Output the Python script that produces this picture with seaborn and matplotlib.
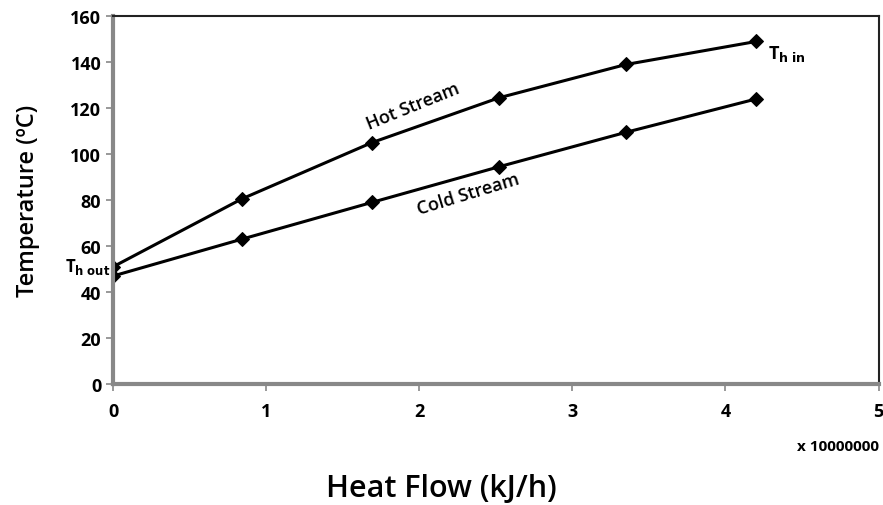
import matplotlib
matplotlib.use("Agg")
import matplotlib.pyplot as plt
import numpy as np
import pandas as pd
import seaborn as sns

# values (x in units of 1e7 kJ/h)
heat_flow = [0.0, 0.84, 1.69, 2.52, 3.35, 4.2]
hot_temp = [51, 80.5, 105, 124.5, 139, 149]
cold_temp = [47, 63, 79, 94.5, 109.5, 124]
x_ticks = [0, 1, 2, 3, 4, 5]
y_ticks = [0, 20, 40, 60, 80, 100, 120, 140, 160]

sns.set_style("white")
plt.rcParams["font.family"] = ["Open Sans", "DejaVu Sans"]
plt.rcParams.update({"text.color": "black", "axes.labelcolor": "black",
                     "xtick.labelcolor": "black", "ytick.labelcolor": "black"})

df = pd.concat([
    pd.DataFrame({"q": heat_flow, "T": hot_temp, "stream": "Hot Stream"}),
    pd.DataFrame({"q": heat_flow, "T": cold_temp, "stream": "Cold Stream"}),
])

fig = plt.figure(figsize=(8.83, 5.06), dpi=100)
ax = fig.add_axes([0.128, 0.239, 0.867, 0.727])
sns.lineplot(data=df, x="q", y="T", units="stream", estimator=None,
             color="black", lw=2.2, marker="D", markersize=7,
             markeredgecolor="black", ax=ax, legend=False)

ax.set_xlim(0, 5); ax.set_ylim(0, 160)
ax.set_xticks(x_ticks); ax.set_yticks(y_ticks)
ax.tick_params(axis="both", labelsize=13, length=5, color="#888888",
               labelcolor="black", direction="out", width=1.2)
ax.tick_params(axis="x", pad=8)
for t in ax.get_xticklabels() + ax.get_yticklabels():
    t.set_fontweight("bold")
ax.tick_params(left=True, bottom=True)
for s in ["top", "right"]:
    ax.spines[s].set_color("#222222"); ax.spines[s].set_linewidth(1.5)
for s in ["left", "bottom"]:
    ax.spines[s].set_color("#888888"); ax.spines[s].set_linewidth(3)

ax.set_xlabel("")
ax.set_ylabel("Temperature (ºC)", fontsize=17, fontweight="semibold", labelpad=22)
fig.text(0.5, 0.018, "Heat Flow (kJ/h)", ha="center", fontsize=22, fontweight="semibold")

ax.text(1.0, -0.18, "x 10000000", transform=ax.transAxes, ha="right",
        fontsize=11, fontweight="bold")
ax.text(1.67, 111, "Hot Stream", rotation=22, rotation_mode="anchor",
        fontsize=13, fontweight="semibold")
ax.text(2.0, 74, "Cold Stream", rotation=17, rotation_mode="anchor",
        fontsize=13, fontweight="semibold")
ax.text(4.28, 142, r"T$_{\mathbf{h\ in}}$", fontsize=13, fontweight="bold")
ax.text(-0.02, 49, r"T$_{\mathbf{h\ out}}$", fontsize=12, ha="right", fontweight="bold")

fig.savefig("out.png", dpi=100)
